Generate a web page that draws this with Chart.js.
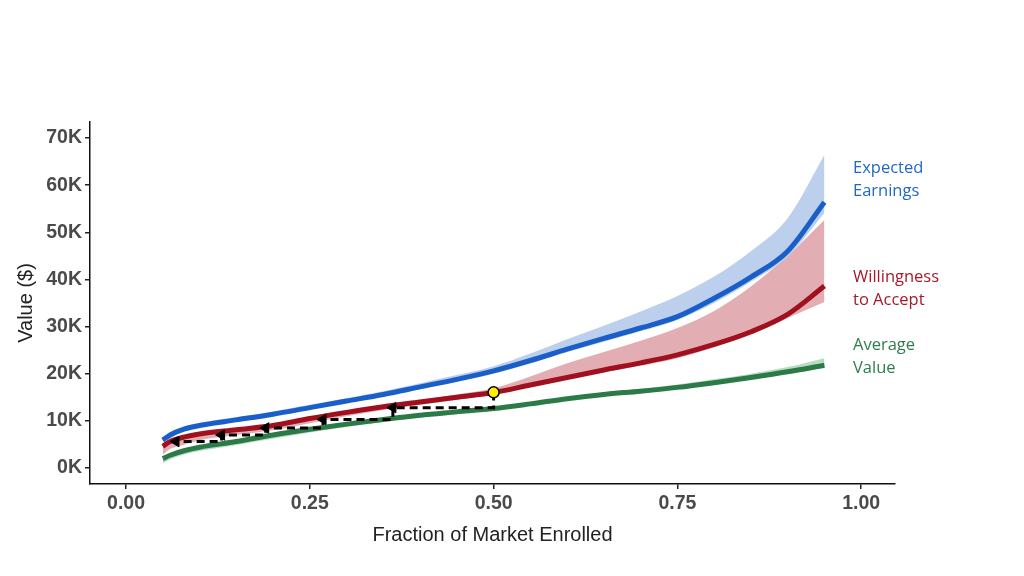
<!DOCTYPE html>
<html>
<head>
<meta charset="utf-8">
<script src="https://cdn.jsdelivr.net/npm/chart.js@4"></script>
<style>
  body { margin: 0; background: #fff; }
  #wrap { width: 1024px; height: 576px; }
</style>
</head>
<body>
<div id="wrap"><canvas id="chart" width="1024" height="576"></canvas></div>
<script>
// fraction of market enrolled
const fractions = [0.05, 0.06, 0.08, 0.10, 0.15, 0.20, 0.25, 0.30, 0.35, 0.40, 0.45, 0.50,
  0.55, 0.60, 0.65, 0.70, 0.75, 0.80, 0.85, 0.90, 0.95];

// values in $ thousands
const earnings = [5.9, 7.0, 8.3, 9.0, 10.2, 11.4, 12.8, 14.2, 15.6, 17.2, 18.8, 20.6,
  22.8, 25.2, 27.5, 29.7, 32.1, 36.0, 40.5, 46.0, 56.4];
const earningsHigh = [6.4, 7.6, 8.9, 9.6, 10.8, 12.0, 13.4, 14.8, 16.3, 18.0, 19.7, 21.6,
  24.3, 27.3, 30.2, 33.2, 36.5, 40.6, 46.0, 53.0, 66.4];
const earningsLow = [5.5, 6.6, 7.9, 8.6, 9.8, 11.0, 12.4, 13.8, 15.2, 16.7, 18.3, 20.0,
  22.2, 24.6, 26.8, 29.0, 31.4, 35.0, 39.5, 44.8, 54.1];

const wta = [4.6, 5.6, 6.6, 7.2, 8.1, 9.0, 10.5, 11.8, 13.0, 14.0, 15.0, 16.0,
  17.6, 19.2, 20.8, 22.3, 24.0, 26.2, 28.9, 32.6, 38.6];
const wtaHigh = [5.0, 6.0, 7.0, 7.6, 8.5, 9.4, 10.9, 12.2, 13.4, 14.5, 15.6, 16.9,
  19.4, 22.2, 24.6, 27.0, 29.7, 33.3, 38.5, 45.0, 52.6];
const wtaLow = [2.8, 4.0, 5.0, 5.9, 7.0, 8.0, 9.5, 11.0, 12.3, 13.4, 14.5, 15.6,
  17.2, 18.8, 20.3, 21.7, 23.3, 25.6, 28.3, 31.8, 35.2];

const avgValue = [2.0, 2.7, 3.7, 4.4, 5.6, 7.0, 8.2, 9.3, 10.3, 11.2, 11.9, 12.6,
  13.6, 14.7, 15.6, 16.3, 17.1, 18.1, 19.2, 20.4, 21.8];
const avgHigh = [2.3, 3.0, 4.0, 4.7, 5.9, 7.2, 8.4, 9.5, 10.5, 11.4, 12.1, 12.9,
  13.9, 15.0, 16.0, 16.8, 17.7, 18.8, 20.0, 21.4, 23.3];
const avgLow = [1.0, 1.8, 2.9, 3.6, 4.9, 6.2, 7.5, 8.7, 9.8, 10.7, 11.5, 12.3,
  13.3, 14.4, 15.3, 16.1, 16.9, 17.9, 19.0, 20.2, 21.5];

// unraveling path from the equilibrium point
const stepX = [0.50, 0.50, 0.363, 0.363, 0.268, 0.268, 0.19, 0.19, 0.13, 0.13, 0.068];
const stepY = [16.0, 12.8, 12.8, 10.3, 10.3, 8.5, 8.5, 7.0, 7.0, 5.6, 5.6];
const arrowX = [0.363, 0.268, 0.19, 0.13, 0.068];
const arrowY = [12.8, 10.3, 8.5, 7.0, 5.6];
const eqX = [0.50];
const eqY = [16.05];

const yTicks = [0, 10, 20, 30, 40, 50, 60, 70];
const xTicks = [0, 0.25, 0.5, 0.75, 1.0];

const seriesLabels = [
  { lines: ["Expected", "Earnings"], color: "#1f68c4", y: 168 },
  { lines: ["Willingness", "to Accept"], color: "#a8182a", y: 277 },
  { lines: ["Average", "Value"], color: "#2e7d4c", y: 345 },
];

function pts(xs, ys) {
  return xs.map((x, i) => ({ x: x, y: ys[i] * 1000 }));
}

function band(high, low, color) {
  return [
    { data: pts(fractions, high), borderWidth: 0, pointRadius: 0, backgroundColor: color, fill: "+1",
      cubicInterpolationMode: "monotone", order: 5 },
    { data: pts(fractions, low), borderWidth: 0, pointRadius: 0, backgroundColor: color, fill: false,
      cubicInterpolationMode: "monotone", order: 5 },
  ];
}

function line(values, color) {
  return { data: pts(fractions, values), borderColor: color, borderWidth: 5, pointRadius: 0,
    fill: false, cubicInterpolationMode: "monotone", borderCapStyle: "butt", order: 2 };
}

const labelPlugin = {
  id: "seriesLabels",
  afterDraw(chart) {
    const ctx = chart.ctx;
    ctx.save();
    ctx.font = "16.5px 'Open Sans'";
    ctx.textBaseline = "middle";
    ctx.textAlign = "left";
    seriesLabels.forEach((l) => {
      ctx.fillStyle = l.color;
      l.lines.forEach((t, i) => ctx.fillText(t, 853, l.y + i * 23));
    });
    ctx.restore();
  },
};

const axisFont = { family: "'Liberation Sans', Arial", size: 19.5, weight: "bold" };
const titleFont = { family: "'Liberation Sans', Arial", size: 20 };

new Chart(document.getElementById("chart").getContext("2d"), {
  type: "line",
  data: {
    datasets: [
      ...band(earningsHigh, earningsLow, "#bccfec"),
      ...band(wtaHigh, wtaLow, "#e3aeb3"),
      ...band(avgHigh, avgLow, "#b6dcc2"),
      line(earnings, "#1a5fc9"),
      line(wta, "#a1101f"),
      line(avgValue, "#2b7a47"),
      { data: pts(stepX, stepY), borderColor: "#000", borderWidth: 3, borderDash: [8, 5],
        pointRadius: 0, fill: false, tension: 0, order: 1 },
      { data: pts(arrowX, arrowY), showLine: false, pointStyle: "triangle", rotation: -90,
        pointRadius: 6, backgroundColor: "#000", borderColor: "#000", borderWidth: 1, order: 0 },
      { data: pts(eqX, eqY), showLine: false, pointStyle: "circle", pointRadius: 5.5,
        backgroundColor: "#ffee00", borderColor: "#000", borderWidth: 1.5, order: -1 },
    ],
  },
  options: {
    responsive: false,
    animation: false,
    layout: { padding: { left: 10, top: 122, right: 129, bottom: 25 } },
    plugins: { legend: { display: false }, tooltip: { enabled: false } },
    scales: {
      x: {
        type: "linear",
        min: -0.049,
        max: 1.046,
        afterBuildTicks: (s) => { s.ticks = xTicks.map((v) => ({ value: v })); },
        afterFit: (s) => { s.height = 67; },
        grid: { drawOnChartArea: false, drawTicks: true, tickLength: 5, color: "#222", lineWidth: 1.5 },
        border: { display: true, color: "#111", width: 1.5 },
        ticks: { color: "#4a4a4a", font: axisFont, padding: 3, callback: (v) => v.toFixed(2) },
        title: { display: true, text: "Fraction of Market Enrolled", color: "#222", font: titleFont, padding: 4 },
      },
      y: {
        min: -3400,
        max: 73400,
        afterBuildTicks: (s) => { s.ticks = yTicks.map((v) => ({ value: v * 1000 })); },
        afterFit: (s) => { s.width = 80; },
        grid: { drawOnChartArea: false, drawTicks: true, tickLength: 5, color: "#222", lineWidth: 1.5 },
        border: { display: true, color: "#111", width: 1.5 },
        ticks: { color: "#4a4a4a", font: axisFont, padding: 3, callback: (v) => (v / 1000) + "K" },
        title: { display: true, text: "Value ($)", color: "#222", font: titleFont, padding: 4 },
      },
    },
  },
  plugins: [labelPlugin],
});
</script>
</body>
</html>
